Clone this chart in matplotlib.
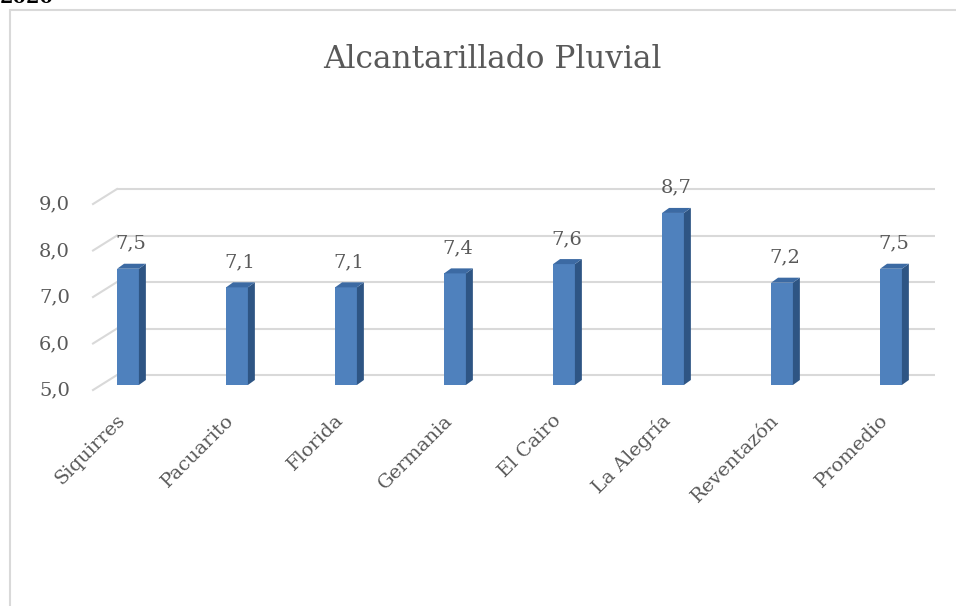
import matplotlib
matplotlib.use('Agg')
import matplotlib.pyplot as plt
from matplotlib.patches import Polygon, Rectangle

plt.rcParams['font.family'] = ['DejaVu Serif']

# data
categories = ['Siquirres', 'Pacuarito', 'Florida', 'Germania', 'El Cairo',
              'La Alegría', 'Reventazón', 'Promedio']
values = [7.5, 7.1, 7.1, 7.4, 7.6, 8.7, 7.2, 7.5]
yticks = [5.0, 6.0, 7.0, 8.0, 9.0]
title = 'Alcantarillado Pluvial'

txt_col = '#595959'
grid_col = '#D9D9D9'
front_col = '#4F81BD'
side_col = '#2E5584'
top_col = '#3C6AA3'

fig = plt.figure(figsize=(9.56, 6.06), dpi=100)

# outer chart frame (goes past right and bottom edge)
fig.patches.append(Rectangle((10 / 956, -0.1), 1.1, 1.1 - 10 / 606,
                             transform=fig.transFigure, fill=False,
                             edgecolor=grid_col, lw=1.5))
# year heading cut by the top edge, as in the source
fig.text(0.0, 1 - 3 / 606, '2020', fontsize=14, fontweight='bold',
         color='black', va='baseline', ha='left')

ax = fig.add_axes([93 / 956, 1 - 410 / 606, (935 - 93) / 956, (410 - 150) / 606])
ax.set_xlim(-0.3211, 7.4037)
ax.set_ylim(4.4624, 10.0538)
ax.axis('off')

base = 5.0
bw = 0.2          # bar width
dx, dy = 0.064, 0.108   # depth offset
g_off = 0.215     # back wall offset

# back wall gridlines + diagonal floor ticks + labels
for t in yticks:
    ax.plot([-0.101, 7.40], [t + g_off, t + g_off], color=grid_col, lw=1.5,
            solid_capstyle='butt', zorder=1)
    ax.plot([-0.321, -0.101], [t - 0.108, t + g_off], color=grid_col, lw=1.5,
            zorder=1, clip_on=False)
    ax.text(-0.532, t - 0.12, f'{t:.1f}'.replace('.', ','), ha='right',
            va='center', fontsize=14, color=txt_col, clip_on=False)

# bars
for i, v in enumerate(values):
    x0, x1 = i - bw / 2, i + bw / 2
    ax.add_patch(Rectangle((x0, base), bw, v - base, facecolor=front_col,
                           edgecolor='none', zorder=3))
    ax.add_patch(Polygon([(x1, base), (x1 + dx, base + dy), (x1 + dx, v + dy), (x1, v)],
                         closed=True, facecolor=side_col, edgecolor='none', zorder=3))
    ax.add_patch(Polygon([(x0, v), (x1, v), (x1 + dx, v + dy), (x0 + dx, v + dy)],
                         closed=True, facecolor=top_col, edgecolor='none', zorder=3))
    ax.text(i + 0.03, v + 0.54, f'{v:.1f}'.replace('.', ','), ha='center',
            va='center', fontsize=14, color=txt_col, zorder=4)
    ax.text(i - 0.05, 4.30, categories[i], rotation=45, rotation_mode='anchor',
            ha='right', va='center', fontsize=14, color=txt_col, clip_on=False)

fig.text(492.5 / 956, 1 - 68 / 606, title, ha='center', va='baseline',
         fontsize=22.5, color=txt_col)

fig.savefig('out.png', dpi=100)
